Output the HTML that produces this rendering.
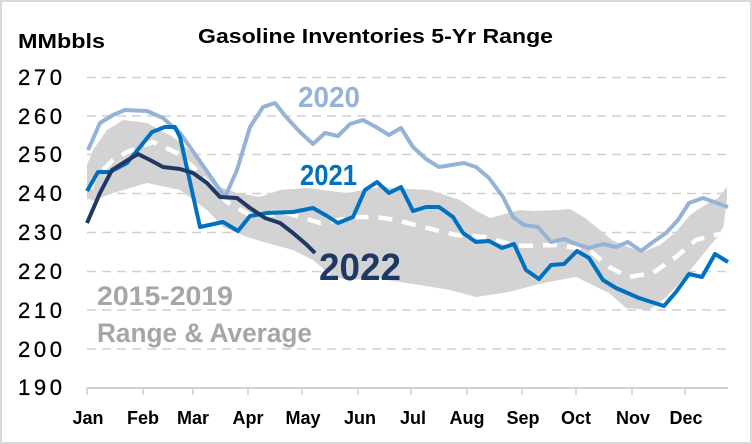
<!DOCTYPE html>
<html><head><meta charset="utf-8"><style>
html,body{margin:0;padding:0;background:#fff;}
svg{display:block;}
text{font-family:"Liberation Sans",sans-serif;}
</style></head><body>
<svg width="752" height="444" viewBox="0 0 752 444" xmlns="http://www.w3.org/2000/svg">
<rect x="1" y="1" width="750" height="442" fill="#fff" stroke="#D9D9D9" stroke-width="2"/>
<g stroke="#D0D0D0" stroke-width="1.5" stroke-dasharray="9,6">
<line x1="87" x2="728" y1="77.5" y2="77.5"/>
<line x1="87" x2="728" y1="116" y2="116"/>
<line x1="87" x2="728" y1="154.5" y2="154.5"/>
<line x1="87" x2="728" y1="193.5" y2="193.5"/>
<line x1="87" x2="728" y1="232.5" y2="232.5"/>
<line x1="87" x2="728" y1="271.5" y2="271.5"/>
<line x1="87" x2="728" y1="310" y2="310"/>
<line x1="87" x2="728" y1="349" y2="349"/>
</g>
<polygon fill="#D3D3D3" points="87,165 93,150 107,130 123,120 147,123 173,137 193,153 207,170 220,187 237,193 260,197 280,190 307,188 347,193 380,187 410,189 430,190 445,195 460,200 475,210 490,218 505,214 520,210 535,211 555,210 570,209 585,218 600,230 612,240 625,246 643,252 660,245 676,232 690,215 705,205 718,198 727,187 727,200 723,230 696,263 676,287 663,300 649,310 626,308 609,293 576,277 543,283 509,292 476,297 450,290 420,285 400,282 376,278 350,280 333,277 313,260 293,250 267,243 247,237 223,227 207,210 180,190 147,183 113,193 87,203"/>
<polyline fill="none" stroke="#fff" stroke-width="4.5" stroke-dasharray="14,10" points="87,213 93,180 113,160 127,152 153,142 177,153 193,167 210,185 227,202 253,217 287,213 320,223 357,217 376,217 396,220 423,227 456,235 486,237 516,246 556,245 589,250 609,267 629,277 653,273 676,257 696,240 723,233 727,217"/>
<polyline fill="none" stroke="#95B3D7" stroke-width="4" stroke-linejoin="round" points="88,150 100,123 113,115 125,110 147,111 163,118 180,133 197,157 213,180 225,197 237,170 250,127 263,107 275,103 287,118 300,132 313,144 325,133 338,136 350,124 363,120 376,127 389,135 401,128 413,147 426,159 439,167 464,163 476,167 489,178 503,197 513,217 524,225 538,227 551,242 564,239 579,245 589,248 603,244 616,247 628,242 641,251 653,242 666,233 678,220 689,203 703,198 728,207"/>
<polyline fill="none" stroke="#0070C0" stroke-width="4" stroke-linejoin="round" points="87,191 98,172 110,172 127,163 140,147 152,132 165,127 175,127 180,137 200,227 223,222 238,231 250,216 267,213 293,212 313,208 327,216 338,223 353,217 365,190 377,182 389,193 401,187 413,211 426,207 439,207 453,217 463,233 476,242 489,241 502,248 514,244 526,270 539,279 551,265 564,264 577,251 589,258 603,280 616,288 639,298 664,306 676,292 689,274 702,277 715,254 728,262"/>
<polyline fill="none" stroke="#1F3864" stroke-width="4" stroke-linejoin="round" points="87,223 100,193 112,170 123,163 138,154 150,160 163,167 180,169 193,173 207,183 220,197 237,198 250,208 265,218 280,223 293,233 307,245 315,253"/>
<line x1="87" x2="728" y1="388" y2="388" stroke="#D0D0D0" stroke-width="2"/>
<g stroke="#D0D0D0" stroke-width="1.5">
<line x1="87" x2="87" y1="388" y2="395"/><line x1="143" x2="143" y1="388" y2="395"/><line x1="193" x2="193" y1="388" y2="395"/><line x1="248" x2="248" y1="388" y2="395"/><line x1="302" x2="302" y1="388" y2="395"/><line x1="358" x2="358" y1="388" y2="395"/><line x1="411" x2="411" y1="388" y2="395"/><line x1="467" x2="467" y1="388" y2="395"/><line x1="522" x2="522" y1="388" y2="395"/><line x1="576" x2="576" y1="388" y2="395"/><line x1="632" x2="632" y1="388" y2="395"/><line x1="685" x2="685" y1="388" y2="395"/>
</g>
<g font-size="22" fill="#000" text-anchor="end" stroke="#000" stroke-width="0.3">
<text x="62" y="85" textLength="44">270</text>
<text x="62" y="124" textLength="44">260</text>
<text x="62" y="162" textLength="44">250</text>
<text x="62" y="201" textLength="44">240</text>
<text x="62" y="240" textLength="44">230</text>
<text x="62" y="279" textLength="44">220</text>
<text x="62" y="318" textLength="44">210</text>
<text x="62" y="357" textLength="44">200</text>
<text x="62" y="395" textLength="44">190</text>
</g>
<g font-size="18" font-weight="bold" fill="#000" text-anchor="middle">
<text x="88" y="424">Jan</text><text x="143" y="424">Feb</text><text x="193" y="424">Mar</text><text x="248" y="424">Apr</text><text x="303" y="424">May</text><text x="360" y="424">Jun</text><text x="413" y="424">Jul</text><text x="467" y="424">Aug</text><text x="523" y="424">Sep</text><text x="576" y="424">Oct</text><text x="633" y="424">Nov</text><text x="686" y="424">Dec</text>
</g>
<text x="18" y="48" font-size="20" font-weight="bold" textLength="87" lengthAdjust="spacingAndGlyphs">MMbbls</text>
<text x="198" y="43" font-size="20" font-weight="bold" textLength="355" lengthAdjust="spacingAndGlyphs">Gasoline Inventories  5-Yr Range</text>
<text x="298" y="107" font-size="29" font-weight="bold" fill="#95B3D7" textLength="62" lengthAdjust="spacingAndGlyphs">2020</text>
<text x="300" y="185" font-size="29" font-weight="bold" fill="#0070C0" textLength="57" lengthAdjust="spacingAndGlyphs">2021</text>
<text x="319" y="280" font-size="38" font-weight="bold" fill="#1F3864" textLength="82" lengthAdjust="spacingAndGlyphs">2022</text>
<text x="97" y="305" font-size="27" font-weight="bold" fill="#A6A6A6" textLength="136" lengthAdjust="spacingAndGlyphs">2015-2019</text>
<text x="97" y="342" font-size="27" font-weight="bold" fill="#A6A6A6" textLength="215" lengthAdjust="spacingAndGlyphs">Range &amp; Average</text>
</svg>
</body></html>
